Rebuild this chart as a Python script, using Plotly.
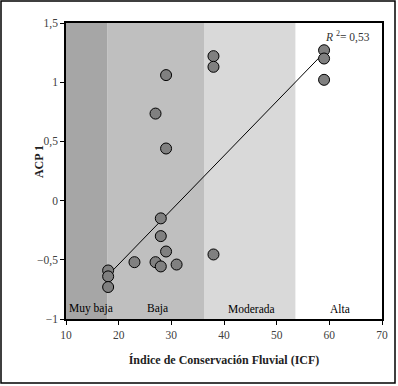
import plotly.graph_objects as go

icf = [29, 27, 29, 38, 38, 59, 59, 59, 28, 28, 29, 23, 27, 28, 31, 18, 18, 18, 38]
acp1 = [1.06, 0.735, 0.44, 1.22, 1.13, 1.27, 1.20, 1.02, -0.15, -0.30, -0.43,
        -0.52, -0.52, -0.556, -0.54, -0.59, -0.64, -0.73, -0.455]

trend_x = [18, 59]
trend_y = [-0.63, 1.25]

band_edges = [10, 17.9, 36.2, 53.6, 70]
band_colors = ["#a6a6a6", "#bfbfbf", "#d9d9d9", "#ffffff"]
band_labels = ["Muy baja", "Baja", "Moderada", "Alta"]
band_label_x = [14.7, 27.4, 45.3, 62.0]

W, H = 398, 386
ML, MR, MT, MB = 66, 16, 23, 67
PW, PH = W - ML - MR, H - MT - MB

FONT = "Liberation Serif"

fig = go.Figure()

shapes = []
for i, c in enumerate(band_colors):
    shapes.append(dict(type="rect", xref="x", yref="y",
                       x0=band_edges[i], x1=band_edges[i + 1], y0=-1, y1=1.5,
                       fillcolor=c, line=dict(width=0), layer="below"))
# outer frame
shapes.append(dict(type="rect", xref="paper", yref="paper",
                   x0=-(ML - 1) / PW, x1=1 + (MR - 3) / PW,
                   y0=-(MB - 3) / PH, y1=1 + (MT - 1) / PH,
                   line=dict(color="black", width=1.5), fillcolor="rgba(0,0,0,0)"))

fig.add_trace(go.Scatter(x=trend_x, y=trend_y, mode="lines",
                         line=dict(color="black", width=1), showlegend=False,
                         hoverinfo="skip"))
fig.add_trace(go.Scatter(x=icf, y=acp1, mode="markers",
                         marker=dict(size=11, color="#808080",
                                     line=dict(color="black", width=1)),
                         showlegend=False))

annotations = []
for lab, lx in zip(band_labels, band_label_x):
    annotations.append(dict(x=lx, y=-0.915, xref="x", yref="y", text=lab,
                            showarrow=False, font=dict(family=FONT, size=11.5, color="black")))
annotations.append(dict(x=63.4, y=1.39, xref="x", yref="y",
                        text="<i>R</i> <sup>2</sup>= 0,53", showarrow=False,
                        font=dict(family=FONT, size=11.5, color="#333333")))
annotations.append(dict(x=(30 - ML) / PW, y=0.53, xref="paper", yref="paper",
                        text="<b>ACP 1</b>", textangle=-90, showarrow=False,
                        font=dict(family=FONT, size=12, color="#222222")))

fig.update_layout(
    width=W, height=H,
    margin=dict(l=ML, r=MR, t=MT, b=MB),
    paper_bgcolor="white", plot_bgcolor="white",
    separators=",.",
    shapes=shapes, annotations=annotations,
    font=dict(family=FONT, size=11.5, color="#404040"),
    xaxis=dict(range=[10, 70], dtick=10, tick0=10, showgrid=False, zeroline=False,
               automargin=False,
               showline=True, linecolor="black", linewidth=1.5, mirror=True,
               ticks="outside", ticklen=4, tickcolor="black",
               tickfont=dict(family=FONT, size=11.5, color="#404040"),
               title=dict(text="<b>Índice de Conservación Fluvial (ICF)</b>",
                          font=dict(family=FONT, size=12, color="#222222"), standoff=16)),
    yaxis=dict(range=[-1, 1.5], dtick=0.5, tick0=-1, showgrid=False, zeroline=False,
               automargin=False,
               showline=True, linecolor="black", linewidth=1.5, mirror=True,
               ticks="outside", ticklen=4, tickcolor="black",
               tickfont=dict(family=FONT, size=11.5, color="#404040")),
)

fig.write_html("out.html", config={"displayModeBar": False},
               post_script="document.body.style.margin='0';document.body.style.overflow='hidden';")
